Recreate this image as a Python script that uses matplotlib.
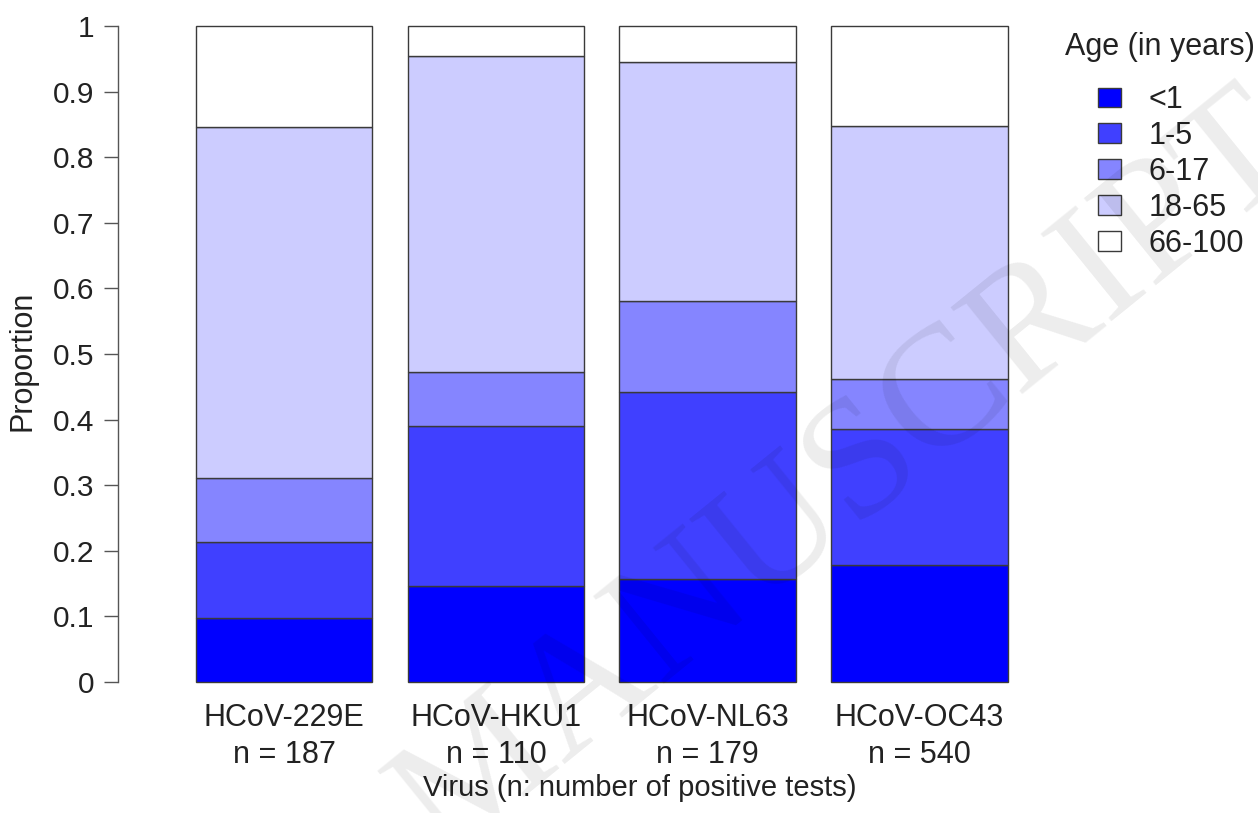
import matplotlib
matplotlib.use("Agg")
import matplotlib.pyplot as plt
import numpy as np
from matplotlib.patches import Patch

# proportion of positive tests per age group, one list per virus
viruses = ["HCoV-229E", "HCoV-HKU1", "HCoV-NL63", "HCoV-OC43"]
n_tests = [187, 110, 179, 540]
age_groups = ["<1", "1-5", "6-17", "18-65", "66-100"]

p_229e = [0.098, 0.116, 0.097, 0.535, 0.154]
p_hku1 = [0.146, 0.244, 0.083, 0.481, 0.046]
p_nl63 = [0.157, 0.285, 0.139, 0.364, 0.055]
p_oc43 = [0.178, 0.207, 0.077, 0.386, 0.152]

colours = ["#0000FF", "#4040FF", "#8585FF", "#CCCCFF", "#FFFFFF"]

plt.rcParams['font.family'] = ['Liberation Sans', 'DejaVu Sans']
txt = "#222222"
edge = "#3a3a3a"

props = np.array([p_229e, p_hku1, p_nl63, p_oc43])
x = np.arange(len(viruses))

fig = plt.figure(figsize=(12.58, 8.13), dpi=100)
ax = fig.add_axes([118 / 1258, 131 / 813, 922 / 1258, 656 / 813])

bottom = np.zeros(len(viruses))
for j, grp in enumerate(age_groups):
    ax.bar(x, props[:, j], bottom=bottom, width=1 / 1.2, color=colours[j],
           edgecolor=edge, linewidth=1.0, label=grp, clip_on=False)
    bottom += props[:, j]

ax.set_xlim(-0.785, 3.57)
ax.set_ylim(0, 1)

for s in ["top", "right", "bottom"]:
    ax.spines[s].set_visible(False)
ax.spines["left"].set_color("#555555")
ax.spines["left"].set_linewidth(1.0)

yt = np.arange(0, 1.01, 0.1)
ax.set_yticks(yt)
ax.set_yticklabels(["0"] + ["%.1f" % v for v in yt[1:-1]] + ["1"])
ax.tick_params(axis="y", length=10, width=1.0, color="#555555",
               pad=7, labelsize=21.5, labelcolor=txt)

ax.set_xticks(x)
ax.set_xticklabels(["%s\nn = %d" % (v, n) for v, n in zip(viruses, n_tests)],
                   linespacing=1.3)
ax.tick_params(axis="x", length=0, pad=15, labelsize=22, labelcolor=txt)

ax.set_ylabel("Proportion", fontsize=22, color=txt)
ax.yaxis.set_label_coords(-0.0868, 0.49)
ax.set_xlabel("Virus (n: number of positive tests)", fontsize=21, color=txt)
ax.xaxis.set_label_coords((640 - 118) / 922, -0.140)

handles = [Patch(facecolor=c, edgecolor=edge, linewidth=1.0) for c in colours]
fig.text(1065 / 1258, 1 - 47 / 813, "Age (in years)", fontsize=22,
         color=txt, ha="left", va="center")
fig.legend(handles, age_groups, loc="upper left",
           bbox_to_anchor=(1083 / 1258, 1 - 70 / 813), frameon=False,
           fontsize=22, handlelength=0.75, handleheight=0.62,
           handletextpad=0.9, labelspacing=0.19, borderpad=0,
           labelcolor=txt)

# faint diagonal watermark across the plot
fig.text(488 / 1258, 1 - 773 / 813, "ACCEPTED MANUSCRIPT", fontsize=124,
         family="Liberation Serif", color="black", alpha=0.075,
         rotation=39, rotation_mode="anchor", ha="center", va="center",
         zorder=10)

fig.savefig("out.png", dpi=100)
